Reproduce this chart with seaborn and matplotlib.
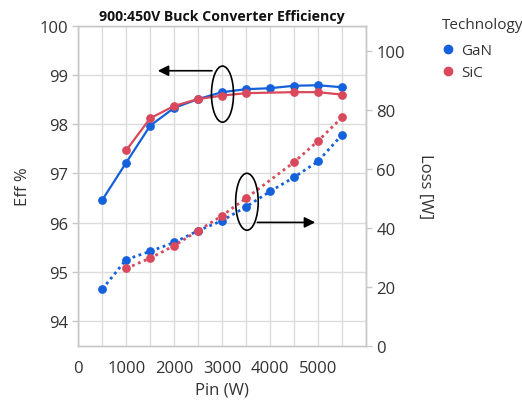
import matplotlib
matplotlib.use("Agg")
import matplotlib.pyplot as plt
from matplotlib.patches import Ellipse
from matplotlib.lines import Line2D
import seaborn as sns
import pandas as pd
import numpy as np

# ---- data ----
pin_gan = [500, 1000, 1500, 2000, 2500, 3000, 3500, 4000, 4500, 5000, 5500]
eff_gan = [96.46, 97.22, 97.97, 98.33, 98.51, 98.65, 98.71, 98.73, 98.78, 98.79, 98.75]
loss_gan = [19.2, 29.2, 32.0, 35.0, 39.0, 42.4, 47.1, 52.3, 57.1, 62.5, 71.5]

pin_sic = [1000, 1500, 2000, 2500, 3000, 3500, 4500, 5000, 5500]
eff_sic = [97.47, 98.12, 98.37, 98.51, 98.58, 98.63, 98.65, 98.65, 98.60]
loss_sic = [26.2, 29.7, 33.9, 39.0, 44.1, 50.0, 62.2, 69.4, 77.4]

technologies = ["GaN", "SiC"]
colors = {"GaN": "#1560DB", "SiC": "#D9495B"}

df = pd.concat([
    pd.DataFrame({"Pin": pin_gan, "Eff": eff_gan, "Loss": loss_gan, "Technology": "GaN"}),
    pd.DataFrame({"Pin": pin_sic, "Eff": eff_sic, "Loss": loss_sic, "Technology": "SiC"}),
], ignore_index=True)

sns.set_theme(style="white")
plt.rcParams['font.family'] = ['Open Sans', 'DejaVu Sans']

fig = plt.figure(figsize=(5.22, 4.02), dpi=100)
ax = fig.add_axes([0.15, 0.1376, 0.551, 0.796])
ax2 = ax.twinx()

sns.lineplot(data=df, x="Pin", y="Eff", hue="Technology", hue_order=technologies,
             palette=colors, marker="o", markersize=6.3, markeredgewidth=0,
             linewidth=1.6, ax=ax, legend=False, zorder=3)
sns.lineplot(data=df, x="Pin", y="Loss", hue="Technology", hue_order=technologies,
             palette=colors, marker="o", markersize=6.3, markeredgewidth=0,
             linewidth=2.0, linestyle=(0, (1, 1.3)), ax=ax2, legend=False, zorder=3)

ax.set_xlim(0, 6000)
ax.set_ylim(93.5, 100)
ax2.set_ylim(0, 108.5)
ax.set_xticks([0, 1000, 2000, 3000, 4000, 5000])
ax.set_xticks(np.arange(500, 6001, 500), minor=True)
ax.set_yticks([94, 95, 96, 97, 98, 99, 100])
ax2.set_yticks([0, 20, 40, 60, 80, 100])

gridc = "#dcdcdc"
ax.grid(True, which="major", color=gridc, linewidth=1)
ax.grid(True, which="minor", axis="x", color=gridc, linewidth=1)
ax.set_axisbelow(True)

for a in (ax, ax2):
    for s in a.spines.values():
        s.set_color("#c8c8c8")
        s.set_linewidth(1)
    a.tick_params(colors="#c8c8c8", labelcolor="#333333", labelsize=12, length=4, width=1)
ax.tick_params(axis="x", which="minor", length=3, color="#c8c8c8")
ax.tick_params(axis="x", pad=6)

ax.set_xlabel("Pin (W)", fontsize=12, color="#333333", labelpad=4)
ax.set_ylabel("Eff %", fontsize=12, color="#333333", labelpad=6)
ax2.set_ylabel("Loss [W]", fontsize=12, color="#333333", rotation=270, labelpad=20)
ax.set_title("900:450V Buck Converter Efficiency", fontsize=10.2, fontweight="bold",
             color="#111111", pad=4)

# annotations
e1 = Ellipse((3008, 98.61), 460, 1.14, fill=False, edgecolor="black", linewidth=1.2, zorder=5)
ax.add_patch(e1)
ax.annotate("", xy=(1600, 99.085), xytext=(2846, 99.085),
            arrowprops=dict(arrowstyle="-|>", color="black", lw=1.2, mutation_scale=16), zorder=5)
e2 = Ellipse((3518, 48.8), 470, 19.3, fill=False, edgecolor="black", linewidth=1.2, zorder=5)
ax2.add_patch(e2)
ax2.annotate("", xy=(5000, 41.8), xytext=(3677, 41.8),
             arrowprops=dict(arrowstyle="-|>", color="black", lw=1.2, mutation_scale=16), zorder=5)

# legend
handles = [Line2D([], [], marker="o", linestyle="none", color=colors[t], markersize=6) for t in technologies]
leg = fig.legend(handles, technologies, title="Technology", loc="upper left",
                 bbox_to_anchor=(0.835, 0.97), frameon=False, fontsize=11,
                 title_fontsize=11, handlelength=0.8, handletextpad=0.45,
                 labelspacing=0.45, borderaxespad=0)
leg._legend_box.align = "left"
leg._legend_box.sep = 8
for t in leg.get_texts():
    t.set_color("#333333")
leg.get_title().set_color("#333333")

fig.savefig("out.png", dpi=100)
